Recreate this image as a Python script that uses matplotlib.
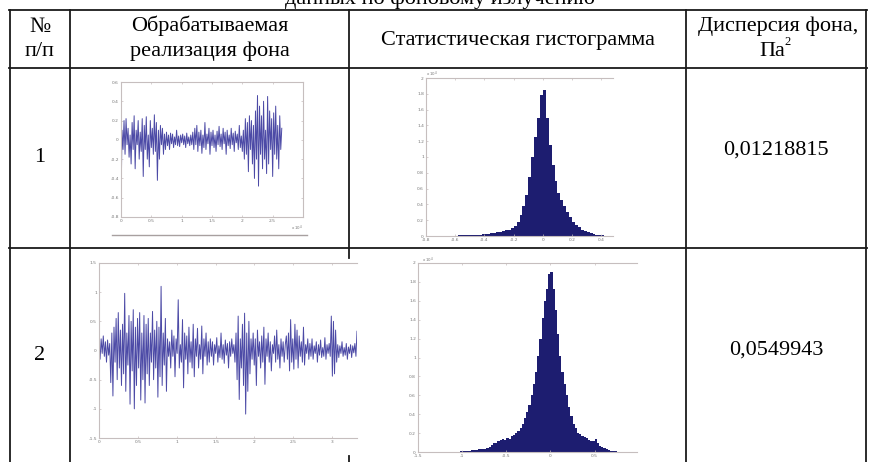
import numpy as np
import matplotlib
matplotlib.use('Agg')
import matplotlib.pyplot as plt
from matplotlib.lines import Line2D

# ---------------- data ----------------
header_num = ["№", "п/п"]
header_signal = ["Обрабатываемая", "реализация фона"]
header_hist = "Статистическая гистограмма"
header_disp = ["Дисперсия фона,", "Па"]
row_numbers = ["1", "2"]
dispersions = ["0,01218815", "0,0549943"]
caption = "данных по фоновому излучению"

# row 1 signal (x in units of 1e4 samples, span 0..2.65)
sig1_span = 2.65
sig1 = [-0.7, 0.1, -0.1,
        0.2, -0.15, 0.22, -0.05, 0.12, -0.18,
        0.05, -0.25, 0.18, -0.1, 0.25, -0.3, 0.1, -0.05, 0.2, -0.2, 0.08, -0.12,
        0.22, -0.38, 0.15, -0.1, 0.24, -0.2, 0.05, -0.28, 0.2, -0.08, 0.12, -0.15,
        0.26, -0.12, 0.18, -0.42, 0.1, -0.2, 0.15, -0.05, 0.12, -0.15, 0.06, -0.1,
        0.08, -0.06, 0.05, -0.1, 0.07, -0.04, 0.06, -0.08, 0.03, -0.05, 0.1, -0.06, 0.04,
        -0.07, 0.05, -0.03, 0.06, -0.05, 0.04, -0.08, 0.07, -0.04, 0.03, -0.06, 0.05, -0.05, 0.08,
        -0.1, 0.12, -0.05, 0.15, -0.12, 0.08, -0.06, 0.1, -0.14, 0.05, -0.08, 0.18,
        -0.1, 0.06, -0.04, 0.12, -0.15, 0.08, -0.06, 0.1, -0.08, 0.05, -0.12, 0.09,
        -0.05, 0.14, -0.07, 0.06, -0.1, 0.12, -0.04, 0.08, -0.15, 0.1, -0.06, 0.05,
        -0.09, 0.12, -0.05, 0.07, -0.12, 0.09, -0.03, 0.06, -0.1, 0.15, -0.08, 0.04,
        -0.12, 0.1, -0.2, 0.22, -0.15, 0.18, -0.33, 0.25, -0.1, 0.2, -0.25, 0.15,
        -0.4, 0.3, -0.2, 0.46, -0.48, 0.35, -0.15, 0.25, -0.3, 0.4, -0.2, 0.1,
        -0.35, 0.45, -0.25, 0.3, -0.1, 0.22, -0.38, 0.28, -0.15, 0.35, -0.2, 0.15,
        -0.3, 0.25, -0.1, 0.12]

# row 2 signal (span 0..3.32)
sig2_span = 3.32
sig2 = [0.1, -0.15, 0.2, -0.05, 0.25, -0.1, 0.15, -0.2, 0.18, -0.08, 0.12,
        -0.55, 0.3, -0.78, 0.4, -0.2, 0.55, -0.5, 0.65, -0.3, 0.35, -0.6,
        0.45, -0.4, 0.98, -0.7, 0.3, -0.25, 0.6, -0.92, 0.5, -0.35, 0.7,
        -1.0, 0.4, -0.6, 0.55, -0.3, 0.65, -0.85, 0.3, -0.5, 0.6, -0.9,
        0.45, -0.4, 0.55, -0.6, 0.3, -0.2, 0.67, -0.5, 0.35, -0.3, 0.5,
        -0.8, 0.4, -0.45, 1.1, -0.6, 0.3, -0.25, 0.55, -0.7, 0.2, -0.1,
        0.15, -0.3, 0.35, -0.1, 0.25, -0.45, 0.2, -0.05, 0.87, -0.3, 0.1,
        -0.2, 0.53, -0.64, 0.3, -0.15, 0.25, -0.4, 0.4, -0.2, 0.15, -0.3,
        0.45, -0.45, 0.2, -0.1, 0.38, -0.3, 0.1, -0.15, 0.42, -0.4, 0.2, -0.1, 0.3, -0.25, 0.15, -0.2,
        0.2, -0.1, 0.15, -0.25, 0.1, -0.05, 0.22, -0.2, 0.08, -0.12, 0.3, -0.15,
        0.1, -0.22, 0.18, -0.08, 0.12, -0.3, 0.15, -0.1, 0.2, -0.05, 0.1, -0.2,
        0.3, -0.5, 0.59, -0.84, 0.2, -0.3, 0.45, -0.6, 0.64, -1.09, 0.3, -0.7, 0.5, -0.4, 0.2,
        -0.15, 0.3, -0.25, 0.2, -0.6, 0.35, -0.1, 0.15, -0.3, 0.25, -0.2, 0.4, -0.58, 0.2, -0.1, 0.3,
        -0.2, 0.15, -0.35, 0.1, -0.05, 0.25, -0.2, 0.35, -0.15, 0.1, -0.3, 0.2, -0.1, 0.15, -0.2, 0.1,
        0.25, -0.15, 0.3, -0.35, 0.53, -0.2, 0.2, -0.32, 0.45, -0.15, 0.35,
        -0.3, 0.25, -0.1, 0.15, -0.2, 0.4, -0.25, 0.1, -0.05, 0.2, -0.15,
        0.12, -0.1, 0.2, -0.15, 0.08, -0.05, 0.15, -0.2, 0.1, -0.08,
        0.18, -0.12, 0.05, -0.1, 0.22, -0.15, 0.1, -0.05, 0.12, -0.1,
        0.59, -0.44, 0.5, -0.4, 0.35, -0.2,
        0.1, -0.12, 0.08, -0.05, 0.15, -0.1, 0.05, -0.08, 0.12, -0.15,
        0.06, -0.05, 0.1, -0.12, 0.08, -0.04, 0.12, -0.1, 0.33]

# histogram 1: counts (x1e4), bins 0.02 wide from -0.8 to 0.48
hist1_range = (-0.8, 0.48)
hist1 = [0.003, 0.003, 0.003, 0.004, 0.004, 0.004, 0.005, 0.005, 0.005, 0.006,
         0.006, 0.007, 0.008, 0.008, 0.01, 0.01, 0.012, 0.015, 0.018, 0.02,
         0.025, 0.03, 0.035, 0.04, 0.045,
         0.05, 0.06, 0.07, 0.08, 0.1,
         0.13, 0.18, 0.26, 0.38, 0.52,
         0.75, 1.0, 1.25, 1.5, 1.78,
         1.85, 1.5, 1.15, 0.9, 0.7,
         0.55, 0.45, 0.38, 0.3, 0.24,
         0.18, 0.14, 0.11, 0.08, 0.06,
         0.045, 0.035, 0.025, 0.018, 0.012,
         0.008, 0.005, 0.004, 0.003]

# histogram 2: counts (x1e4), bins 0.025 wide from -1.5 to 1.0
hist2_range = (-1.5, 1.0)
hist2 = [0, 0, 0, 0, 0, 0, 0, 0, 0, 0, 0, 0, 0, 0, 0, 0, 0.003, 0.005, 0.005, 0.008,
         0.01, 0.01, 0.012, 0.015,
         0.02, 0.025, 0.025, 0.03,
         0.03, 0.03, 0.035, 0.04,
         0.05, 0.07, 0.09, 0.1,
         0.12, 0.13, 0.14, 0.13,
         0.15, 0.14, 0.17, 0.18,
         0.2, 0.22, 0.25, 0.3,
         0.36, 0.42, 0.5, 0.6,
         0.72, 0.85, 1.02, 1.2,
         1.42, 1.6, 1.72, 1.88,
         1.91, 1.72, 1.5, 1.25,
         1.02, 0.85, 0.72, 0.6,
         0.48, 0.38, 0.3, 0.25,
         0.2, 0.19, 0.17, 0.16,
         0.15, 0.13, 0.12, 0.12,
         0.14, 0.1, 0.06, 0.05,
         0.04, 0.03, 0.02, 0.015,
         0.01, 0.008, 0.005, 0.005,
         0.003, 0.003, 0.002, 0.002, 0.001, 0.001, 0.001, 0.001]

ts1_xticks = [0, 0.5, 1, 1.5, 2, 2.5]
ts1_xlabels = ["0", "0.5", "1", "1.5", "2", "2.5"]
ts1_yticks = [-0.8, -0.6, -0.4, -0.2, 0, 0.2, 0.4, 0.6]
ts1_ylabels = ["-0.8", "-0.6", "-0.4", "-0.2", "0", "0.2", "0.4", "0.6"]
h1_xticks = [-0.8, -0.6, -0.4, -0.2, 0, 0.2, 0.4]
h1_xlabels = ["-0.8", "-0.6", "-0.4", "-0.2", "0", "0.2", "0.4"]
h_yticks = [0, 0.2, 0.4, 0.6, 0.8, 1, 1.2, 1.4, 1.6, 1.8, 2]
h_ylabels = ["0", "0.2", "0.4", "0.6", "0.8", "1", "1.2", "1.4", "1.6", "1.8", "2"]
ts2_xticks = [0, 0.5, 1, 1.5, 2, 2.5, 3]
ts2_xlabels = ["0", "0.5", "1", "1.5", "2", "2.5", "3"]
ts2_yticks = [-1.5, -1, -0.5, 0, 0.5, 1, 1.5]
ts2_ylabels = ["-1.5", "-1", "-0.5", "0", "0.5", "1", "1.5"]
h2_xticks = [-1.5, -1, -0.5, 0, 0.5]
h2_xlabels = ["-1.5", "-1", "-0.5", "0", "0.5"]

# ---------------- figure ----------------
W, H = 869, 462
fig = plt.figure(figsize=(W / 100, H / 100), dpi=100)
fig.patch.set_facecolor('white')

def fx(x):
    return x / W

def fy(y):
    return 1 - y / H

def add_ax(l, t, r, b):
    return fig.add_axes([fx(l), fy(b), (r - l) / W, (b - t) / H])

SPINE = '#c6bebe'
SIGCOL = '#4c4aa6'
HISTCOL = '#1d1d70'

def style(ax, right=True):
    ax.set_facecolor('none')
    for s in ax.spines.values():
        s.set_color(SPINE)
        s.set_linewidth(0.8)
    ax.spines['right'].set_visible(right)
    ax.tick_params(direction='in', length=1.5, width=0.5, colors=SPINE,
                   labelsize=3.2, labelcolor='#777777', pad=1.5,
                   top=True, right=right)

# --- row 1 signal
ax = add_ax(121, 82, 303, 217)
t1 = np.arange(len(sig1)) * sig1_span / (len(sig1) - 1)
ax.plot(t1, sig1, color=SIGCOL, lw=0.7)
ax.set_xlim(0, 3)
ax.set_ylim(-0.8, 0.6)
ax.set_xticks(ts1_xticks, ts1_xlabels)
ax.set_yticks(ts1_yticks, ts1_ylabels)
style(ax)
fig.text(fx(297), fy(228), "x 10$^4$", fontsize=2.8, color='#777777', ha='center', va='center')
fig.add_artist(Line2D([fx(112), fx(307)], [fy(234.5), fy(234.5)], color='#a8a0a0', lw=1.0))

# --- row 1 histogram
ax = add_ax(426, 78, 613, 236)
e1 = np.linspace(hist1_range[0], hist1_range[1], len(hist1) + 1)
ax.stairs(hist1, e1, fill=True, color=HISTCOL)
ax.set_xlim(-0.8, 0.48)
ax.set_ylim(0, 2)
ax.set_xticks(h1_xticks, h1_xlabels)
ax.set_yticks(h_yticks, h_ylabels)
style(ax, right=False)
fig.text(fx(432), fy(74), "x 10$^4$", fontsize=2.8, color='#777777', ha='center', va='center')

# --- row 2 signal
ax = add_ax(99, 263, 357, 438)
t2 = np.arange(len(sig2)) * sig2_span / (len(sig2) - 1)
ax.plot(t2, sig2, color=SIGCOL, lw=0.7)
ax.set_xlim(0, 3.32)
ax.set_ylim(-1.5, 1.5)
ax.set_xticks(ts2_xticks, ts2_xlabels)
ax.set_yticks(ts2_yticks, ts2_ylabels)
style(ax, right=False)

# --- row 2 histogram
ax = add_ax(418, 263, 637, 452)
e2 = np.linspace(hist2_range[0], hist2_range[1], len(hist2) + 1)
ax.stairs(hist2, e2, fill=True, color=HISTCOL)
ax.set_xlim(-1.5, 0.98)
ax.set_ylim(0, 2)
ax.set_xticks(h2_xticks, h2_xlabels)
ax.set_yticks(h_yticks, h_ylabels)
style(ax, right=False)
fig.text(fx(428), fy(260), "x 10$^4$", fontsize=2.8, color='#777777', ha='center', va='center')

# ---------------- table grid ----------------
LC = '#1a1a1a'
LW = 1.3

def hline(y, x0, x1):
    fig.add_artist(Line2D([fx(x0), fx(x1)], [fy(y), fy(y)], color=LC, lw=LW))

def vline(x, y0, y1):
    fig.add_artist(Line2D([fx(x), fx(x)], [fy(y0), fy(y1)], color=LC, lw=LW))

for y in (9.5, 68, 248):
    hline(y, 9, 866.5)
vline(9.5, 9.5, 462)
vline(70, 9.5, 462)
vline(349, 9.5, 258)
vline(349, 456, 462)
vline(686, 9.5, 462)
vline(866, 9.5, 462)

# ---------------- text ----------------
FONT = 'Liberation Serif'
FS = 16
fig.text(fx(440), fy(4), caption, fontsize=FS, family=FONT, ha='center', va='baseline')
fig.text(fx(40), fy(27), header_num[0], fontsize=FS, family=FONT, ha='center', va='center')
fig.text(fx(40), fy(52), header_num[1], fontsize=FS, family=FONT, ha='center', va='center')
fig.text(fx(210), fy(26), header_signal[0], fontsize=FS, family=FONT, ha='center', va='center')
fig.text(fx(210), fy(51), header_signal[1], fontsize=FS, family=FONT, ha='center', va='center')
fig.text(fx(518), fy(40), header_hist, fontsize=FS, family=FONT, ha='center', va='center')
fig.text(fx(778), fy(26), header_disp[0], fontsize=FS, family=FONT, ha='center', va='center')
fig.text(fx(772), fy(51), header_disp[1], fontsize=FS, family=FONT, ha='center', va='center')
fig.text(fx(784), fy(42), "2", fontsize=9, family=FONT, ha='left', va='center')
fig.text(fx(40), fy(157), row_numbers[0], fontsize=FS, family=FONT, ha='center', va='center')
fig.text(fx(40), fy(355), row_numbers[1], fontsize=FS, family=FONT, ha='center', va='center')
fig.text(fx(776), fy(150), dispersions[0], fontsize=FS, family=FONT, ha='center', va='center')
fig.text(fx(776), fy(350), dispersions[1], fontsize=FS, family=FONT, ha='center', va='center')

fig.savefig('out.png', dpi=100)
